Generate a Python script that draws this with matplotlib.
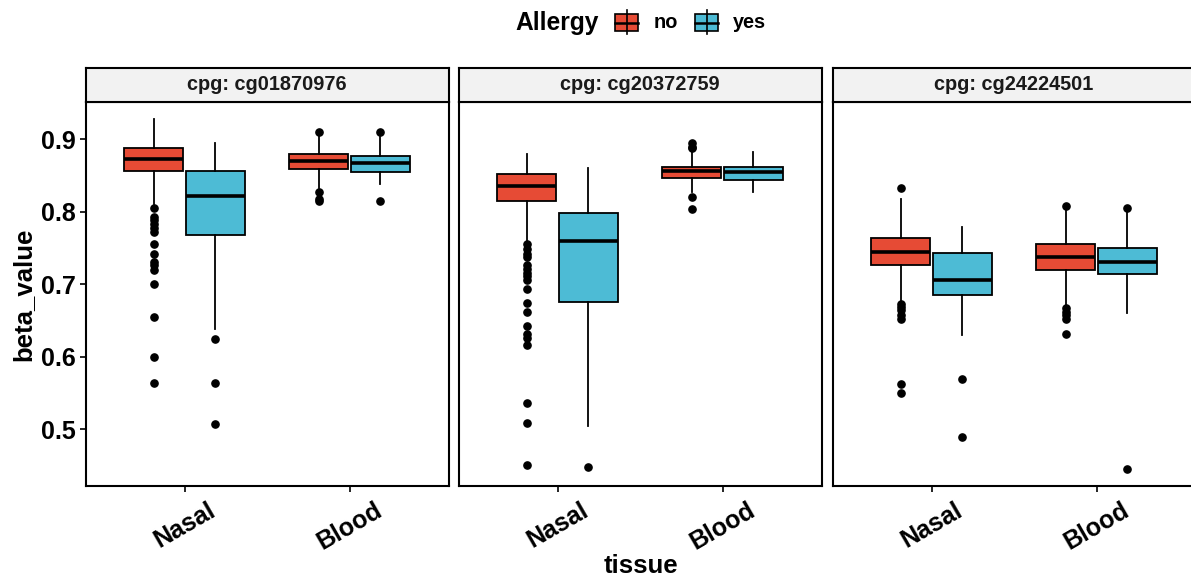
import numpy as np
import matplotlib.pyplot as plt
from matplotlib.patches import Rectangle
from matplotlib.lines import Line2D

plt.rcParams['font.family'] = ['Liberation Sans', 'DejaVu Sans']
plt.rcParams['font.weight'] = 'bold'

# facets, categories and groups
panels = ["cpg: cg01870976", "cpg: cg20372759", "cpg: cg24224501"]
tissues = ["Nasal", "Blood"]
groups = ["no", "yes"]
colors = ["#E64B35", "#4DBBD5"]

# box stats, one row per panel, order: Nasal-no, Nasal-yes, Blood-no, Blood-yes
whislo = [[0.811, 0.638, 0.832, 0.838],
          [0.759, 0.505, 0.827, 0.827],
          [0.674, 0.630, 0.670, 0.661]]
q1 = [[0.856, 0.768, 0.859, 0.855],
      [0.815, 0.676, 0.846, 0.843],
      [0.727, 0.685, 0.720, 0.714]]
med = [[0.873, 0.821, 0.870, 0.867],
       [0.835, 0.759, 0.856, 0.854],
       [0.745, 0.706, 0.737, 0.731]]
q3 = [[0.887, 0.856, 0.879, 0.877],
      [0.852, 0.798, 0.862, 0.862],
      [0.764, 0.743, 0.755, 0.750]]
whishi = [[0.927, 0.895, 0.904, 0.903],
          [0.880, 0.860, 0.883, 0.882],
          [0.817, 0.779, 0.802, 0.799]]

# outliers
fliers_cg01870976 = [
    [0.805, 0.793, 0.788, 0.783, 0.777, 0.772, 0.756, 0.742, 0.730, 0.726,
     0.720, 0.700, 0.655, 0.600, 0.564],
    [0.625, 0.564, 0.508],
    [0.910, 0.827, 0.818, 0.814],
    [0.910, 0.814],
]
fliers_cg20372759 = [
    [0.755, 0.748, 0.742, 0.737, 0.726, 0.721, 0.716, 0.711, 0.706, 0.694,
     0.674, 0.662, 0.642, 0.631, 0.626, 0.616, 0.537, 0.509, 0.451],
    [0.448],
    [0.894, 0.889, 0.887, 0.820, 0.804],
    [],
]
fliers_cg24224501 = [
    [0.832, 0.673, 0.668, 0.664, 0.658, 0.652, 0.562, 0.550],
    [0.569, 0.490],
    [0.808, 0.667, 0.662, 0.658, 0.652, 0.632],
    [0.805, 0.445],
]
fliers = [fliers_cg01870976, fliers_cg20372759, fliers_cg24224501]

W, H = 1191, 578
fig = plt.figure(figsize=(W / 100, H / 100), dpi=100)

def fx(x):
    return x / W

def fy(y):
    return 1 - y / H

lefts = [85.5, 458.5, 832.5]
pw = 363
top, bottom = 102, 486
strip_top = 68

positions = [1 - 0.1875, 1 + 0.1875, 2 - 0.1875, 2 + 0.1875]

for p, name in enumerate(panels):
    ax = fig.add_axes([fx(lefts[p]), fy(bottom), pw / W, (bottom - top) / H])
    stats = []
    for i in range(4):
        stats.append(dict(whislo=whislo[p][i], q1=q1[p][i], med=med[p][i],
                          q3=q3[p][i], whishi=whishi[p][i], fliers=fliers[p][i]))
    bp = ax.bxp(stats, positions=positions, widths=0.355, patch_artist=True,
                showcaps=False,
                boxprops=dict(edgecolor='black', linewidth=1.3),
                medianprops=dict(color='black', linewidth=2.6, solid_capstyle='butt'),
                whiskerprops=dict(color='black', linewidth=1.3),
                flierprops=dict(marker='o', markerfacecolor='black',
                                markeredgecolor='black', markersize=5.2))
    for i, box in enumerate(bp['boxes']):
        box.set_facecolor(colors[i % 2])
    ax.set_xlim(0.4, 2.6)
    ax.set_ylim(0.422, 0.951)
    ax.set_xticks([1, 2])
    ax.set_xticklabels(tissues, rotation=30, fontsize=18, fontweight='bold')
    ax.tick_params(axis='x', length=4, width=1.2, pad=5)
    for s in ax.spines.values():
        s.set_linewidth(1.5)
    if p == 0:
        ax.set_yticks([0.5, 0.6, 0.7, 0.8, 0.9])
        ax.set_yticklabels(["0.5", "0.6", "0.7", "0.8", "0.9"], fontsize=18,
                           fontweight='bold')
        ax.tick_params(axis='y', length=4, width=1.2, pad=3)
        ax.set_ylabel("beta_value", fontsize=18.5, fontweight='bold', labelpad=4)
    else:
        ax.set_yticks([])

    # facet strip
    sax = fig.add_axes([fx(lefts[p]), fy(top), pw / W, (top - strip_top) / H])
    sax.set_facecolor('#F2F2F2')
    sax.set_xticks([])
    sax.set_yticks([])
    for s in sax.spines.values():
        s.set_linewidth(1.5)
    sax.text(0.5, 0.5, name, ha='center', va='center', fontsize=14.3,
             fontweight='bold', color='#1a1a1a', transform=sax.transAxes)

fig.text(fx(641), fy(566), "tissue", ha='center', va='center', fontsize=18.5,
         fontweight='bold')

# legend drawn by hand: title on the left, box keys in a row
fig.text(fx(557), fy(23), "Allergy", ha='center', va='center', fontsize=17.7,
         fontweight='bold')
key_x = [615, 695]
label_x = [654, 733]
for i, g in enumerate(groups):
    x0 = key_x[i]
    xc = x0 + 11.5
    fig.add_artist(Line2D([fx(xc), fx(xc)], [fy(10), fy(34)], color='black',
                          linewidth=1.2))
    fig.add_artist(Rectangle((fx(x0), fy(31)), 23 / W, 17 / H,
                             facecolor=colors[i], edgecolor='black',
                             linewidth=1.2))
    fig.add_artist(Line2D([fx(x0), fx(x0 + 23)], [fy(22.5), fy(22.5)],
                          color='black', linewidth=1.8))
    fig.text(fx(label_x[i]), fy(23), g, ha='left', va='center', fontsize=14.3,
             fontweight='bold')

fig.savefig("out.png", dpi=100)
